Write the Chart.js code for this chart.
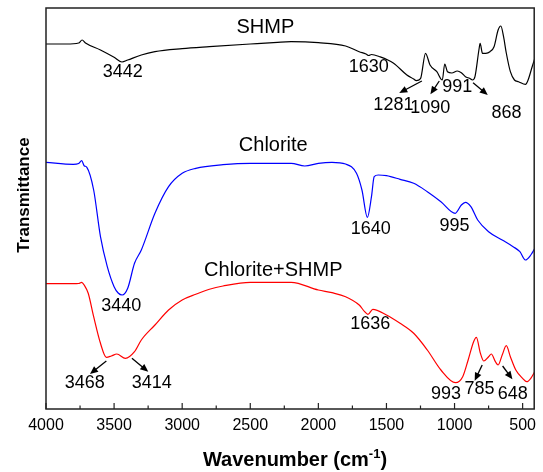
<!DOCTYPE html>
<html lang="en">
<head>
    <meta charset="UTF-8">
    <title>FTIR spectra</title>
    <script src="https://cdn.jsdelivr.net/npm/chart.js"></script>
    <style>
        body { margin: 0; background: #fff; }
        #wrap { width: 543px; height: 472px; }
    </style>
</head>
<body>
    <div id="wrap"><canvas id="ftirChart"></canvas></div>

    <script>
        // Spectra (wavenumber in cm-1, transmittance in arbitrary offset units)
        const shmpWn = [4000, 3850, 3760, 3735, 3710, 3600, 3500, 3442, 3400, 3300, 3200, 3000, 2800, 2500, 2300, 2200, 2000, 1800, 1700, 1650, 1630, 1610, 1550, 1450, 1350, 1300, 1281, 1250, 1213, 1180, 1130, 1090, 1072, 1052, 1020, 980, 950, 920, 890, 868, 850, 820, 812, 795, 770, 740, 710, 680, 660, 640, 620, 590, 560, 530, 479, 460, 430, 400];
        const shmpT = [365, 365, 366, 369, 366, 359, 351.7, 347, 349, 354, 357.3, 360.3, 362.3, 365, 366.7, 367.3, 366.3, 363, 357.3, 355, 353.5, 354.5, 352.3, 346, 334, 330, 328.3, 330.3, 355.7, 344, 337.3, 329, 345, 337.3, 336, 338, 336.3, 332.3, 330.7, 329, 332.3, 360, 365.7, 355.7, 355.7, 357.3, 362.3, 379, 383, 372.3, 356, 337.3, 329, 327.3, 324.7, 329, 342.3, 355];

        const chloriteWn = [4000, 3800, 3760, 3738, 3720, 3700, 3650, 3600, 3550, 3500, 3470, 3441, 3400, 3350, 3300, 3200, 3100, 3000, 2900, 2700, 2500, 2300, 2200, 2100, 2000, 1900, 1800, 1720, 1680, 1640, 1610, 1590, 1560, 1500, 1400, 1300, 1200, 1100, 995, 950, 920, 880, 830, 750, 650, 570, 520, 480, 440, 400];
        const chloriteT = [246.7, 244.7, 245.5, 248.3, 243.3, 241.7, 219, 172.3, 142.3, 122.3, 116, 114, 120.7, 145.7, 159, 195.7, 222.3, 235.7, 240.7, 244.3, 245.7, 245.7, 245.7, 243, 245.7, 246.7, 245, 235.7, 219, 191.7, 212.3, 232.3, 234, 233.3, 229.7, 225.7, 217.3, 207.3, 195.7, 204, 206.7, 202.3, 189, 177.3, 169, 162.3, 157.3, 149, 154, 163];

        const mixWn = [4000, 3800, 3760, 3738, 3720, 3690, 3650, 3600, 3557, 3520, 3480, 3417, 3350, 3300, 3200, 3100, 3000, 2900, 2800, 2700, 2500, 2300, 2200, 2000, 1900, 1800, 1700, 1660, 1636, 1600, 1500, 1400, 1300, 1200, 1100, 993, 940, 900, 860, 840, 810, 785, 750, 730, 700, 680, 650, 620, 590, 550, 500, 470, 440, 400];
        const mixT = [125.3, 125.3, 125.5, 126.7, 124, 115.7, 92.3, 65.7, 51.7, 53, 55, 50.7, 57.3, 69, 84, 99, 109, 114.7, 119.7, 123, 126.7, 126.7, 126.7, 119, 116.3, 112.3, 104, 97.3, 94.7, 99.7, 94, 85.7, 75.7, 59, 39, 26.3, 32.3, 49, 67.3, 71.7, 55.7, 48, 52.3, 55, 47.3, 44, 54, 63.3, 52.3, 39, 30.7, 27.3, 30.7, 40];

        const wnTicks = [4000, 3500, 3000, 2500, 2000, 1500, 1000, 500];

        // Peak labels: [text, wavenumber, transmittance, font size]
        const peakLabels = [
            ['SHMP', 2389, 382, 20],
            ['3442', 3436, 337, 18],
            ['1630', 1630, 342, 18],
            ['1281', 1449, 304, 18],
            ['1090', 1178, 300.5, 18],
            ['991', 980, 322, 18],
            ['868', 619, 296, 18],
            ['Chlorite', 2331, 264, 20],
            ['1640', 1616, 180, 18],
            ['995', 1001, 183, 18],
            ['3440', 3447, 102.5, 18],
            ['Chlorite+SHMP', 2331, 138.5, 20],
            ['1636', 1619, 85, 18],
            ['3468', 3715, 26, 18],
            ['3414', 3223, 26, 18],
            ['993', 1063, 15, 18],
            ['785', 816, 20, 18],
            ['648', 572, 15, 18]
        ];

        // Arrows: [fromWn, fromT, toWn, toT]
        const arrows = [
            [1240, 328, 1406, 316],
            [1112, 328, 1177, 314.7],
            [864, 326.3, 756, 314],
            [3557, 48, 3677, 35],
            [3369, 50.7, 3249, 37.3],
            [797, 44, 852, 28.3],
            [647, 43, 575, 29.7]
        ];

        const FONT = '"Liberation Sans", Arial, sans-serif';

        function toPoints(xs, ys) {
            return xs.map((x, i) => ({ x: x, y: ys[i] }));
        }

        const decorPlugin = {
            id: 'decor',
            afterDraw(chart) {
                const ctx = chart.ctx;
                const xs = chart.scales.x;
                const ys = chart.scales.y;
                const a = chart.chartArea;
                ctx.save();

                // frame
                ctx.strokeStyle = '#222';
                ctx.lineWidth = 1.5;
                ctx.strokeRect(a.left, a.top, a.right - a.left, a.bottom - a.top);

                // inward ticks on the bottom axis
                ctx.lineWidth = 1.2;
                for (let v = 500; v <= 4000; v += 250) {
                    const px = xs.getPixelForValue(v);
                    if (px < a.left - 0.5 || px > a.right + 0.5) continue;
                    const len = v % 500 === 0 ? 6 : 3.5;
                    ctx.beginPath();
                    ctx.moveTo(px, a.bottom);
                    ctx.lineTo(px, a.bottom - len);
                    ctx.stroke();
                }

                // peak labels
                ctx.fillStyle = '#000';
                ctx.textAlign = 'center';
                ctx.textBaseline = 'middle';
                peakLabels.forEach(([txt, wn, t, size]) => {
                    ctx.font = size + 'px ' + FONT;
                    ctx.fillText(txt, xs.getPixelForValue(wn), ys.getPixelForValue(t));
                });

                // arrows
                ctx.strokeStyle = '#000';
                ctx.lineWidth = 1.3;
                arrows.forEach(([w0, t0, w1, t1]) => {
                    const x0 = xs.getPixelForValue(w0), y0 = ys.getPixelForValue(t0);
                    const x1 = xs.getPixelForValue(w1), y1 = ys.getPixelForValue(t1);
                    const ang = Math.atan2(y1 - y0, x1 - x0);
                    const hl = 8, hw = 3.5;
                    ctx.beginPath();
                    ctx.moveTo(x0, y0);
                    ctx.lineTo(x1 - Math.cos(ang) * hl * 0.6, y1 - Math.sin(ang) * hl * 0.6);
                    ctx.stroke();
                    ctx.beginPath();
                    ctx.moveTo(x1, y1);
                    ctx.lineTo(x1 - Math.cos(ang) * hl - Math.sin(ang) * hw, y1 - Math.sin(ang) * hl + Math.cos(ang) * hw);
                    ctx.lineTo(x1 - Math.cos(ang) * hl + Math.sin(ang) * hw, y1 - Math.sin(ang) * hl - Math.cos(ang) * hw);
                    ctx.closePath();
                    ctx.fill();
                });

                // y title
                ctx.save();
                ctx.translate(24, 195);
                ctx.rotate(-Math.PI / 2);
                ctx.font = 'bold 17px ' + FONT;
                ctx.fillText('Transmittance', 0, 0);
                ctx.restore();

                // x title with superscript
                ctx.textAlign = 'left';
                ctx.textBaseline = 'alphabetic';
                const main = 'Wavenumber (cm';
                const sup = '-1';
                const close = ')';
                ctx.font = 'bold 20px ' + FONT;
                const wMain = ctx.measureText(main).width;
                const wClose = ctx.measureText(close).width;
                ctx.font = 'bold 13px ' + FONT;
                const wSup = ctx.measureText(sup).width;
                let x = 295 - (wMain + wSup + wClose) / 2;
                const base = 466;
                ctx.font = 'bold 20px ' + FONT;
                ctx.fillText(main, x, base);
                x += wMain;
                ctx.font = 'bold 13px ' + FONT;
                ctx.fillText(sup, x, base - 8);
                x += wSup;
                ctx.font = 'bold 20px ' + FONT;
                ctx.fillText(close, x, base);

                ctx.restore();
            }
        };

        const ctx = document.getElementById('ftirChart').getContext('2d');
        new Chart(ctx, {
            type: 'line',
            data: {
                datasets: [
                    { label: 'SHMP', data: toPoints(shmpWn, shmpT), borderColor: '#000000' },
                    { label: 'Chlorite', data: toPoints(chloriteWn, chloriteT), borderColor: '#0000ff' },
                    { label: 'Chlorite+SHMP', data: toPoints(mixWn, mixT), borderColor: '#ff0000' }
                ]
            },
            options: {
                responsive: true,
                maintainAspectRatio: false,
                animation: false,
                parsing: false,
                elements: {
                    point: { radius: 0 },
                    line: { borderWidth: 1.2, cubicInterpolationMode: 'monotone', fill: false }
                },
                layout: { padding: { left: 46, right: 1, top: 8, bottom: 0 } },
                plugins: {
                    legend: { display: false },
                    tooltip: { enabled: false }
                },
                scales: {
                    x: {
                        type: 'linear',
                        reverse: true,
                        min: 415,
                        max: 4000,
                        afterBuildTicks: (s) => { s.ticks = wnTicks.map(v => ({ value: v })); },
                        afterFit: (s) => { s.height = 63; },
                        grid: { display: false, drawTicks: false },
                        border: { display: false },
                        ticks: {
                            padding: 7,
                            color: '#000',
                            maxRotation: 0,
                            autoSkip: false,
                            font: { family: FONT, size: 16 },
                            callback: (v) => String(v)
                        }
                    },
                    y: {
                        display: false,
                        min: 0,
                        max: 401
                    }
                }
            },
            plugins: [decorPlugin]
        });
    </script>
</body>
</html>
